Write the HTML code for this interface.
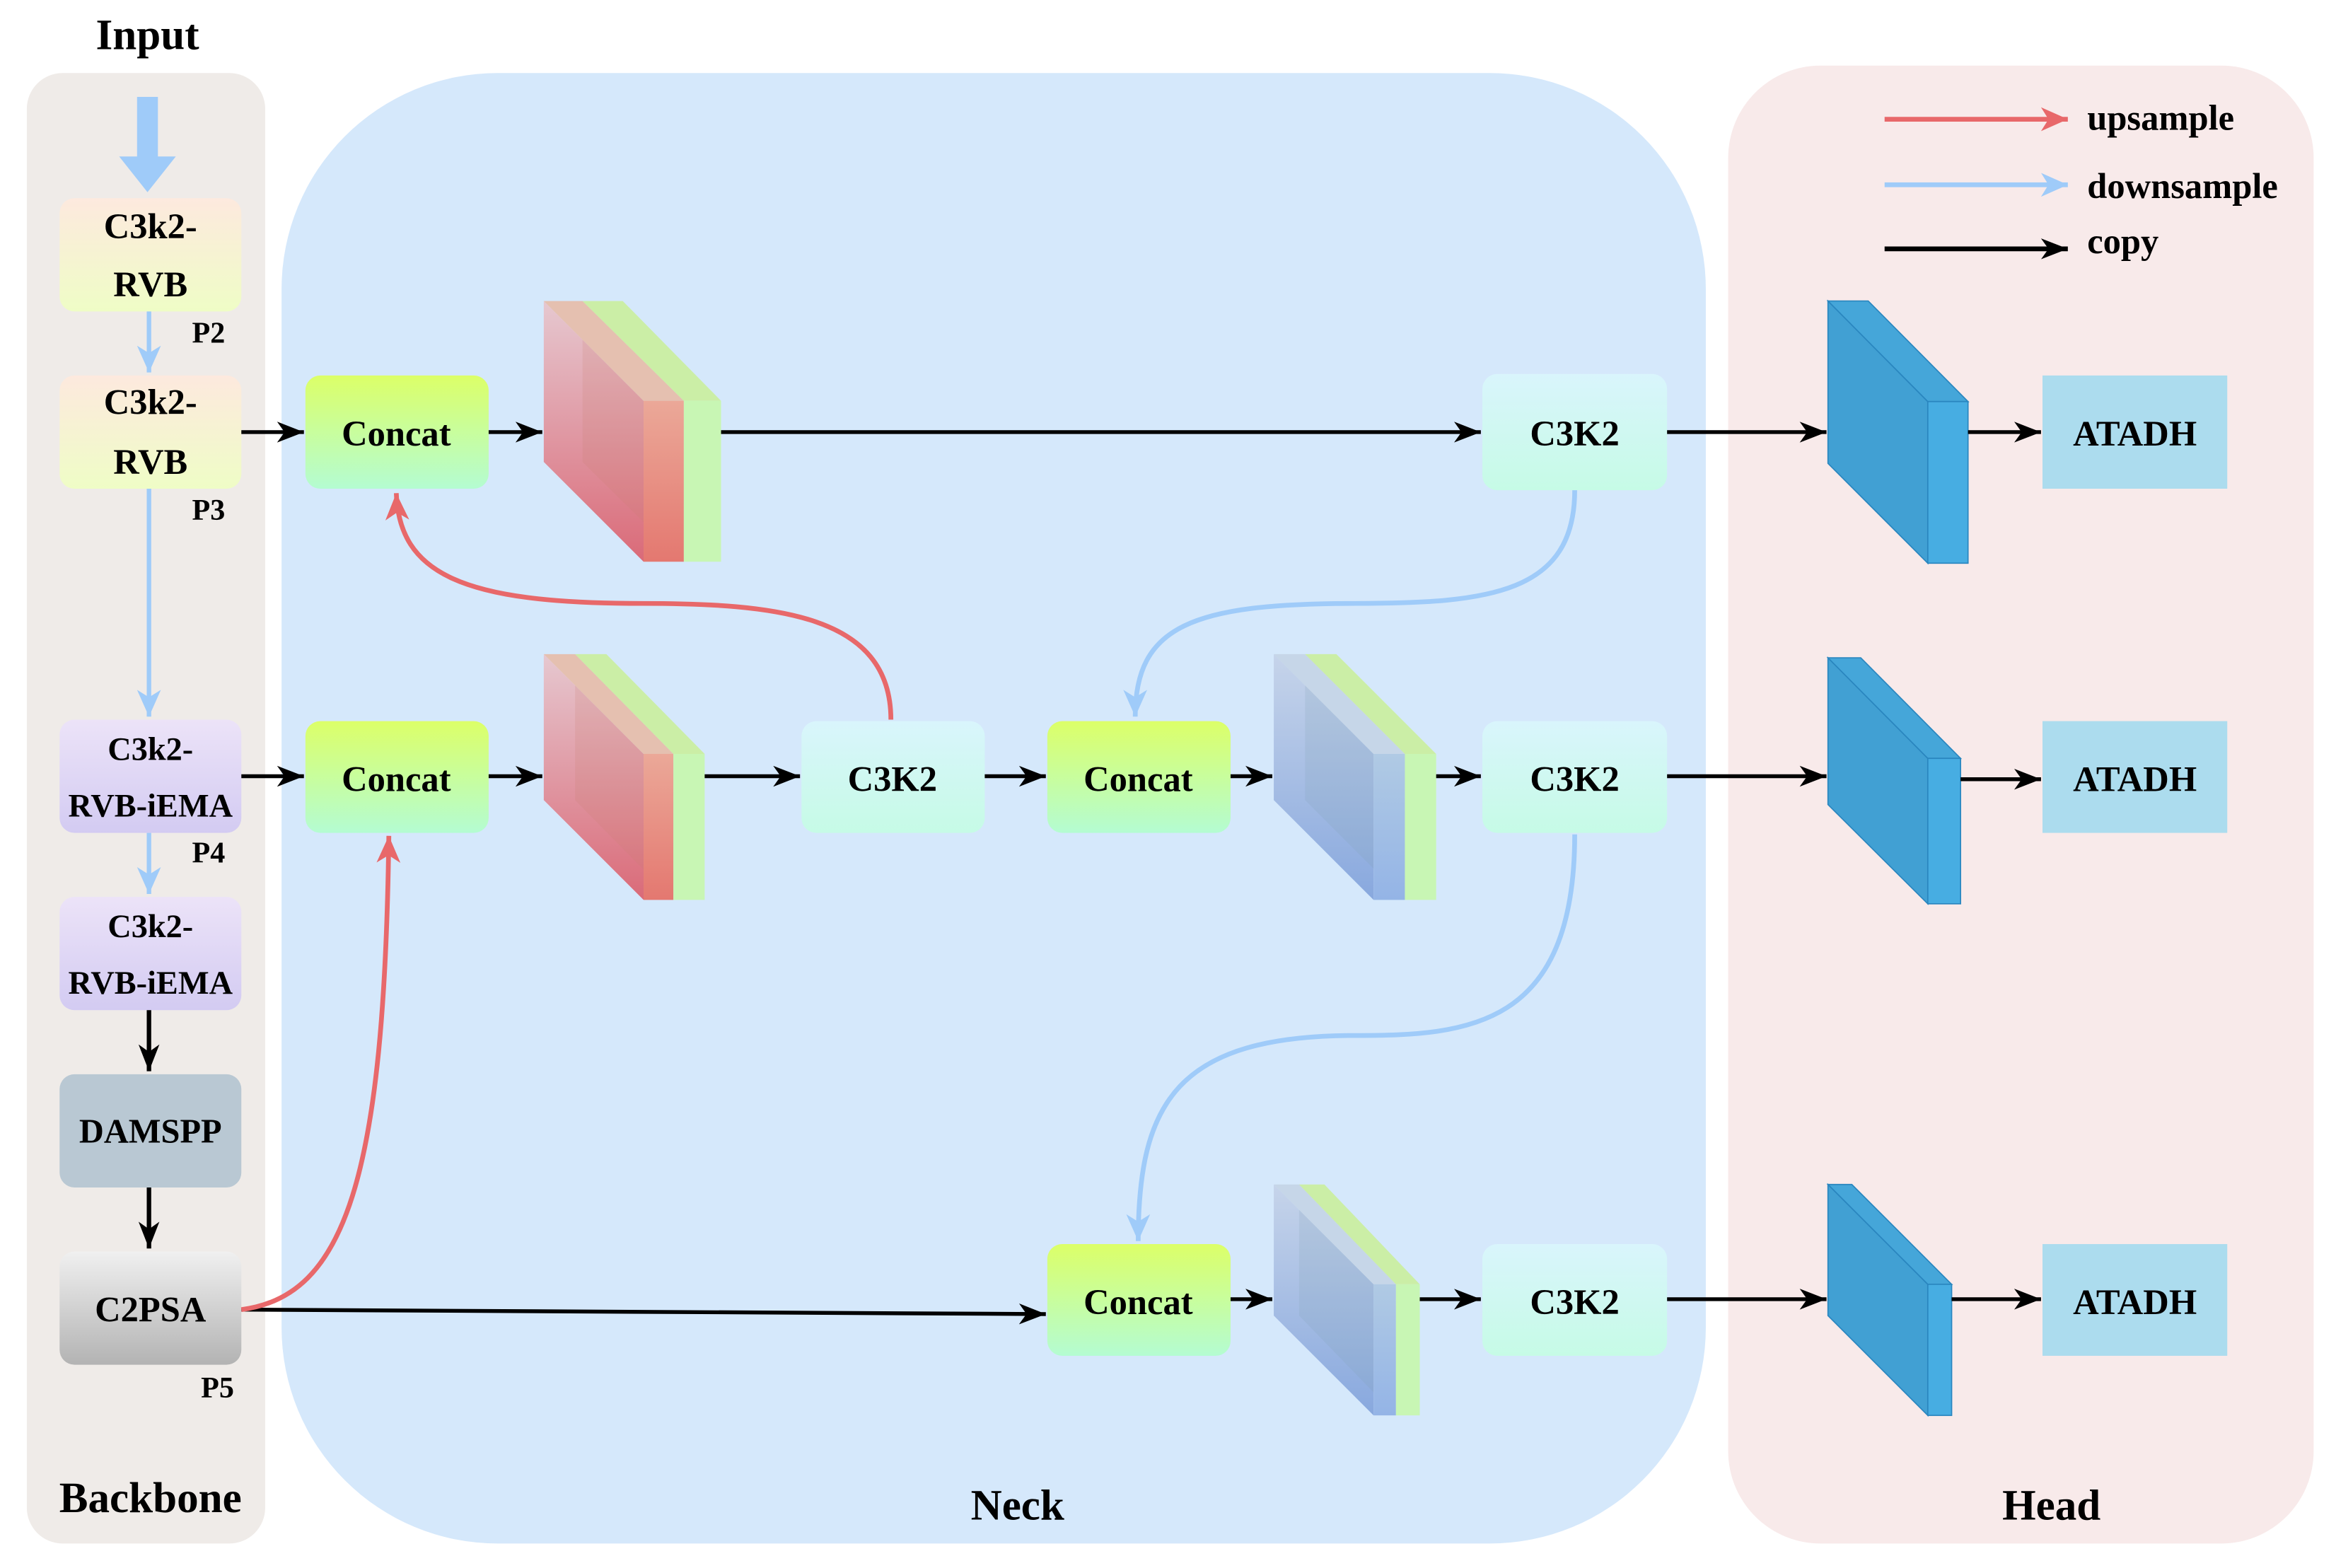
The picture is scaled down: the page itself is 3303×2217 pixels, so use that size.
<!DOCTYPE html>
<html><head><meta charset="utf-8"><style>
html,body{margin:0;padding:0;background:#fff}
svg{display:block}
text{font-family:"Liberation Serif",serif;font-weight:bold;fill:#000}
</style></head><body>
<svg width="3303" height="2217" viewBox="0 0 1568 1052.4" xmlns="http://www.w3.org/2000/svg">
<defs>
<marker id="ak" markerUnits="userSpaceOnUse" markerWidth="20" markerHeight="16" refX="18" refY="8" orient="auto"><path d="M0,1 L18,8 L0,15 L5,8 Z" fill="#000"/></marker>
<marker id="ar" markerUnits="userSpaceOnUse" markerWidth="20" markerHeight="18" refX="18" refY="9" orient="auto"><path d="M0,1 L18,9 L0,17 L5,9 Z" fill="#e8686a"/></marker>
<marker id="ab" markerUnits="userSpaceOnUse" markerWidth="20" markerHeight="18" refX="18" refY="9" orient="auto"><path d="M0,1 L18,9 L0,17 L5,9 Z" fill="#9fcbf9"/></marker>
<linearGradient id="gy" x1="0" y1="0" x2="0" y2="1"><stop offset="0" stop-color="#fde9de"/><stop offset="1" stop-color="#effdc6"/></linearGradient>
<linearGradient id="gp" x1="0" y1="0" x2="0" y2="1"><stop offset="0" stop-color="#ece3f8"/><stop offset="1" stop-color="#d3cbf2"/></linearGradient>
<linearGradient id="gg" x1="0" y1="0" x2="0" y2="1"><stop offset="0" stop-color="#f0f0f0"/><stop offset="1" stop-color="#b3b3b3"/></linearGradient>
<linearGradient id="gc" x1="0" y1="0" x2="0" y2="1"><stop offset="0" stop-color="#dcff68"/><stop offset="1" stop-color="#b4fcd2"/></linearGradient>
<linearGradient id="gk" x1="0" y1="0" x2="0" y2="1"><stop offset="0" stop-color="#d9f5fc"/><stop offset="1" stop-color="#c6fbe6"/></linearGradient>
<linearGradient id="gps" x1="0" y1="0" x2="0" y2="1"><stop offset="0" stop-color="#e6c8d0"/><stop offset="1" stop-color="#da6a78"/></linearGradient>
<linearGradient id="gpf" x1="0" y1="0" x2="0" y2="1"><stop offset="0" stop-color="#eba898"/><stop offset="1" stop-color="#e47870"/></linearGradient>
<linearGradient id="gbs" x1="0" y1="0" x2="0" y2="1"><stop offset="0" stop-color="#c6d4ea"/><stop offset="1" stop-color="#88a8de"/></linearGradient>
<linearGradient id="gbf" x1="0" y1="0" x2="0" y2="1"><stop offset="0" stop-color="#b0cae4"/><stop offset="1" stop-color="#94b4e6"/></linearGradient>
</defs>

<rect x="18" y="49" width="160" height="987" rx="24" fill="#efebe8"/>
<rect x="189" y="49" width="956" height="987" rx="145" fill="#d5e8fb"/>
<rect x="1160" y="44" width="393" height="992" rx="62" fill="#f8eaea"/>

<text x="99" y="33" font-size="29" text-anchor="middle">Input</text>
<text x="101" y="1015" font-size="29" text-anchor="middle">Backbone</text>
<text x="683" y="1020" font-size="29" text-anchor="middle">Neck</text>
<text x="1377" y="1020" font-size="29" text-anchor="middle">Head</text>

<path d="M92,65 H106 V105 H118 L99,129 L80,105 H92 Z" fill="#9fcbf9"/>

<rect x="40" y="133" width="122" height="76" rx="10" fill="url(#gy)"/>
<text x="101" y="160" font-size="24" text-anchor="middle">C3k2-</text>
<text x="101" y="199" font-size="24" text-anchor="middle">RVB</text>
<text x="140" y="230" font-size="20" text-anchor="middle">P2</text>
<rect x="40" y="252" width="122" height="76" rx="10" fill="url(#gy)"/>
<text x="101" y="278" font-size="24" text-anchor="middle">C3k2-</text>
<text x="101" y="318" font-size="24" text-anchor="middle">RVB</text>
<text x="140" y="349" font-size="20" text-anchor="middle">P3</text>
<rect x="40" y="483" width="122" height="76" rx="10" fill="url(#gp)"/>
<text x="101" y="510" font-size="22" text-anchor="middle">C3k2-</text>
<text x="101" y="548" font-size="22" text-anchor="middle">RVB-iEMA</text>
<text x="140" y="579" font-size="20" text-anchor="middle">P4</text>
<rect x="40" y="602" width="122" height="76" rx="10" fill="url(#gp)"/>
<text x="101" y="629" font-size="22" text-anchor="middle">C3k2-</text>
<text x="101" y="667" font-size="22" text-anchor="middle">RVB-iEMA</text>
<rect x="40" y="721" width="122" height="76" rx="10" fill="#b9c8d3"/>
<text x="101" y="767" font-size="23" text-anchor="middle">DAMSPP</text>
<rect x="40" y="840" width="122" height="76" rx="10" fill="url(#gg)"/>
<text x="101" y="887" font-size="24" text-anchor="middle">C2PSA</text>
<text x="146" y="938" font-size="20" text-anchor="middle">P5</text>

<g stroke-width="3" fill="none">
<path d="M100,209 V250" stroke="#9fcbf9" marker-end="url(#ab)"/>
<path d="M100,328 V481" stroke="#9fcbf9" marker-end="url(#ab)"/>
<path d="M100,559 V600" stroke="#9fcbf9" marker-end="url(#ab)"/>
<path d="M100,678 V719" stroke="#000" marker-end="url(#ak)"/>
<path d="M100,797 V838" stroke="#000" marker-end="url(#ak)"/>
</g>

<g>
<rect x="205" y="252" width="123" height="76" rx="10" fill="url(#gc)"/>
<text x="266" y="299" font-size="24" text-anchor="middle">Concat</text>
<rect x="205" y="484" width="123" height="75" rx="10" fill="url(#gc)"/>
<text x="266" y="531" font-size="24" text-anchor="middle">Concat</text>
<rect x="703" y="484" width="123" height="75" rx="10" fill="url(#gc)"/>
<text x="764" y="531" font-size="24" text-anchor="middle">Concat</text>
<rect x="703" y="835" width="123" height="75" rx="10" fill="url(#gc)"/>
<text x="764" y="882" font-size="24" text-anchor="middle">Concat</text>

<rect x="995" y="251" width="124" height="78" rx="10" fill="url(#gk)"/>
<text x="1057" y="299" font-size="24" text-anchor="middle">C3K2</text>
<rect x="538" y="484" width="123" height="75" rx="10" fill="url(#gk)"/>
<text x="599" y="531" font-size="24" text-anchor="middle">C3K2</text>
<rect x="995" y="484" width="124" height="75" rx="10" fill="url(#gk)"/>
<text x="1057" y="531" font-size="24" text-anchor="middle">C3K2</text>
<rect x="995" y="835" width="124" height="75" rx="10" fill="url(#gk)"/>
<text x="1057" y="882" font-size="24" text-anchor="middle">C3K2</text>

<rect x="1371" y="252" width="124" height="76" fill="#acdcee"/>
<text x="1433" y="299" font-size="24" text-anchor="middle">ATADH</text>
<rect x="1371" y="484" width="124" height="75" fill="#acdcee"/>
<text x="1433" y="531" font-size="24" text-anchor="middle">ATADH</text>
<rect x="1371" y="835" width="124" height="75" fill="#acdcee"/>
<text x="1433" y="882" font-size="24" text-anchor="middle">ATADH</text>
</g>

<g>
<polygon points="365,202 432,269 432,377 365,310" fill="url(#gps)"/>
<polygon points="391,202 459,269 459,377 391,310" fill="#c88070" opacity="0.18"/>
<polygon points="365,202 391,202 459,269 432,269" fill="#e5c0b0"/>
<rect x="432" y="269" width="27" height="108" fill="url(#gpf)"/>
<polygon points="391,202 418,202 484,269 459,269" fill="#cbeea6"/>
<rect x="459" y="269" width="25" height="108" fill="#c8f6b4"/>
</g>
<g>
<polygon points="365,439 432,506 432,604 365,537" fill="url(#gps)"/>
<polygon points="386,439 452,506 452,604 386,537" fill="#c88070" opacity="0.18"/>
<polygon points="365,439 386,439 452,506 432,506" fill="#e5c0b0"/>
<rect x="432" y="506" width="20" height="98" fill="url(#gpf)"/>
<polygon points="386,439 407,439 473,506 452,506" fill="#cbeea6"/>
<rect x="452" y="506" width="21" height="98" fill="#c8f6b4"/>
</g>
<g>
<polygon points="855,439 922,506 922,604 855,537" fill="url(#gbs)"/>
<polygon points="876,439 943,506 943,604 876,537" fill="#7f9fb0" opacity="0.18"/>
<polygon points="855,439 876,439 943,506 922,506" fill="#c6d6e8"/>
<rect x="922" y="506" width="21" height="98" fill="url(#gbf)"/>
<polygon points="876,439 897,439 964,506 943,506" fill="#cbeea6"/>
<rect x="943" y="506" width="21" height="98" fill="#c8f6b4"/>
</g>
<g>
<polygon points="855,795 922,862 922,950 855,883" fill="url(#gbs)"/>
<polygon points="872,795 937,862 937,950 872,883" fill="#7f9fb0" opacity="0.18"/>
<polygon points="855,795 872,795 937,862 922,862" fill="#c6d6e8"/>
<rect x="922" y="862" width="15" height="88" fill="url(#gbf)"/>
<polygon points="872,795 889,795 953,862 937,862" fill="#cbeea6"/>
<rect x="937" y="862" width="16" height="88" fill="#c8f6b4"/>
</g>
<g stroke="#2a86bf" stroke-width="0.8">
<polygon points="1227,202 1294,269.5 1294,378 1227,311" fill="#41a0d3"/>
<polygon points="1227,202 1254,202 1321,269.5 1294,269.5" fill="#45a6d9"/>
<rect x="1294" y="269.5" width="27" height="108.5" fill="#47ade2"/>
<polygon points="1227,441.5 1294,509 1294,606.6 1227,540" fill="#41a0d3"/>
<polygon points="1227,441.5 1249,441.5 1316,509 1294,509" fill="#45a6d9"/>
<rect x="1294" y="509" width="22" height="97.6" fill="#47ade2"/>
<polygon points="1227,795 1294,862 1294,950 1227,883" fill="#41a0d3"/>
<polygon points="1227,795 1243,795 1310,862 1294,862" fill="#45a6d9"/>
<rect x="1294" y="862" width="16" height="88" fill="#47ade2"/>
</g>

<g stroke="#000" stroke-width="2.6" fill="none" marker-end="url(#ak)">
<path d="M162,290 H204"/>
<path d="M328,290 H364"/>
<path d="M484,290 H994"/>
<path d="M1119,290 H1226"/>
<path d="M1321,290 H1370"/>
<path d="M162,521 H204"/>
<path d="M328,521 H364"/>
<path d="M473,521 H537"/>
<path d="M661,521 H702"/>
<path d="M826,521 H854"/>
<path d="M964,521 H994"/>
<path d="M1119,521 H1226"/>
<path d="M1316,523 H1370"/>
<path d="M162,879 L702,882"/>
<path d="M826,872 H854"/>
<path d="M953,872 H994"/>
<path d="M1119,872 H1226"/>
<path d="M1310,872 H1370"/>
</g>

<g stroke-width="3.2" fill="none">
<path d="M598,483 C598,412 520,405 430,405 C310,405 268,385 266,331" stroke="#e8686a" marker-end="url(#ar)"/>
<path d="M162,879 C232,870 258,790 261,561" stroke="#e8686a" marker-end="url(#ar)"/>
<path d="M1057,329 C1057,398 1000,405 910,405 C800,405 762,420 762,481" stroke="#9fcbf9" marker-end="url(#ab)"/>
<path d="M1057,560 C1057,690 985,695 910,695 C790,695 764,740 764,833" stroke="#9fcbf9" marker-end="url(#ab)"/>
</g>

<g stroke-width="3.2" fill="none">
<path d="M1265,80 H1388" stroke="#e8686a" marker-end="url(#ar)"/>
<path d="M1265,124 H1388" stroke="#9fcbf9" marker-end="url(#ab)"/>
<path d="M1265,167 H1388" stroke="#000" marker-end="url(#ak)"/>
</g>
<text x="1401" y="87" font-size="24">upsample</text>
<text x="1401" y="133" font-size="24">downsample</text>
<text x="1401" y="170" font-size="24">copy</text>
</svg>
</body></html>
